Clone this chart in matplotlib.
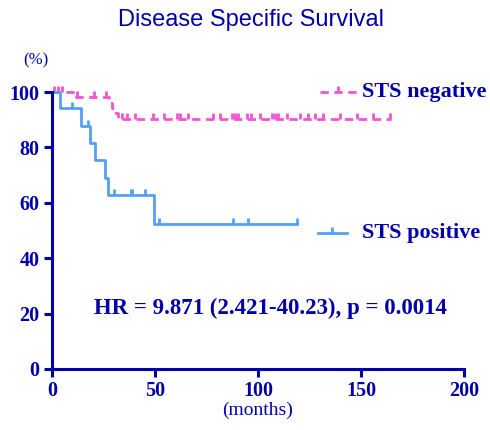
'''
Kaplan-Meier plot: disease specific survival by STS status
'''

import matplotlib.pyplot as plt
from matplotlib.path import Path
import numpy as np

# STS negative (pink, dashed): step times (months) and survival (%)
neg_time = [0, 10.2, 27.5, 29.0, 30.2, 31.9, 164.5]
neg_surv = [100, 98.1, 96.2, 94.2, 92.3, 90.3, 90.3]
neg_cens_t = [1, 3, 5, 12, 20.5, 26, 33.8, 36.6, 40.3, 49, 54.4, 60.5, 62.1, 66.2, 78.2,
              81.6, 87.4, 88.8, 90.4, 94.7, 96.6, 101, 106.8, 108.3, 109.9, 113.9,
              120.4, 124.3, 127.7, 131.7, 139.8, 148, 156, 164]
neg_cens_s = [100, 100, 100, 98.1, 98.1, 98.1] + [90.3] * 28

# STS positive (blue, solid)
pos_time = [0, 4.1, 14.1, 18.4, 20.9, 25.7, 27.3, 49.7, 118.8]
pos_surv = [100, 94.1, 87.8, 81.6, 75.3, 69.0, 62.7, 52.3, 52.3]
pos_cens_t = [9.7, 17.5, 30.1, 38.2, 38.8, 45.1, 52.1, 88, 95.3, 118.8]
pos_cens_s = [94.1, 87.8, 62.7, 62.7, 62.7, 62.7, 52.3, 52.3, 52.3, 52.3]

hr_text = 'HR = 9.871 (2.421-40.23), p = 0.0014'

navy = '#0000AA'
pink = '#F055D5'
blue = '#55A0F5'
serif = 'Liberation Serif'
lw = 2.0

# censor tick that points upward from the curve
tick_up = Path([(0, 0), (0, 1)])

fig = plt.figure(figsize=(4.9, 4.3), dpi=100)
ax = fig.add_axes([0.106, 0.142, 0.841, 0.644])

ax.step(neg_time, neg_surv, where='post', color=pink, lw=lw, dashes=(3.0, 2.0), clip_on=False)
ax.plot(neg_cens_t, neg_cens_s, ls='none', marker=tick_up, ms=8, mew=lw, color=pink, clip_on=False)
ax.step(pos_time, pos_surv, where='post', color=blue, lw=lw, clip_on=False)
ax.plot(pos_cens_t, pos_cens_s, ls='none', marker=tick_up, ms=8, mew=lw, color=blue, clip_on=False)

ax.set_xlim(0, 200)
ax.set_ylim(0, 100)
ax.set_xticks([0, 50, 100, 150, 200])
ax.set_yticks([0, 20, 40, 60, 80, 100])
for s in ['top', 'right']:
    ax.spines[s].set_visible(False)
for s in ['left', 'bottom']:
    ax.spines[s].set_color(navy)
    ax.spines[s].set_linewidth(2.2)
ax.tick_params(colors=navy, width=2.2, length=6, direction='out', pad=3)
for lab in ax.get_xticklabels() + ax.get_yticklabels():
    lab.set_fontfamily(serif)
    lab.set_fontweight('bold')
    lab.set_fontsize(14.5)
    lab.set_color(navy)

# legend entries drawn by hand at the right side
ax.plot([130, 148], [100, 100], color=pink, lw=lw, dashes=(3.0, 2.0), clip_on=False)
ax.plot([139], [100], marker=tick_up, ms=8, mew=lw, color=pink, clip_on=False)
ax.text(150.5, 100, 'STS negative', family=serif, weight='bold', fontsize=16, color=navy, va='center')
ax.plot([129, 143], [49, 49], color=blue, lw=lw, clip_on=False)
ax.plot([136], [49], marker=tick_up, ms=8, mew=lw, color=blue, clip_on=False)
ax.text(150.5, 49, 'STS positive', family=serif, weight='bold', fontsize=16, color=navy, va='center')

ax.text(106, 22, hr_text, family=serif, weight='bold', fontsize=16.5, color=navy, ha='center', va='center')

fig.text(0.512, 0.953, 'Disease Specific Survival', family='Liberation Sans', fontsize=17,
         color=navy, ha='center', va='center')
fig.text(0.073, 0.86, '(%)', family=serif, fontsize=12, color=navy, ha='center', va='center')
fig.text(0.525, 0.045, '(months)', family=serif, fontsize=14, color=navy, ha='center', va='center')

plt.savefig('out.png')
